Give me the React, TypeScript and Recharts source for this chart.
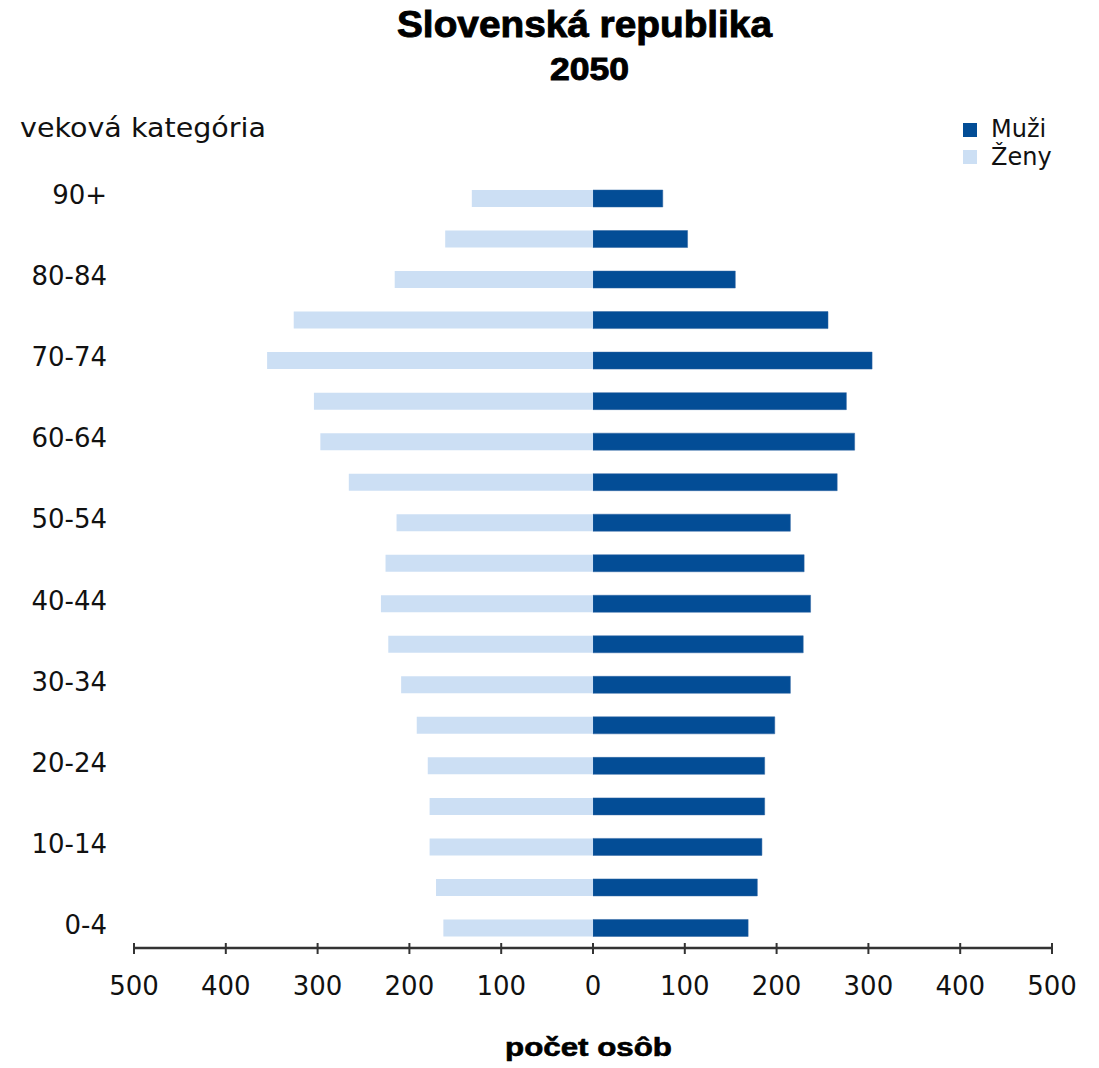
import React from 'react';
import { BarChart, Bar, XAxis, YAxis } from 'recharts';

const ageGroups = ['90+', '85-89', '80-84', '75-79', '70-74', '65-69', '60-64', '55-59', '50-54', '45-49', '40-44', '35-39', '30-34', '25-29', '20-24', '15-19', '10-14', '5-9', '0-4'];
const muzi = [76, 103, 155, 256, 304, 276, 285, 266, 215, 230, 237, 229, 215, 198, 187, 187, 184, 179, 169];
const zeny = [132, 161, 216, 326, 355, 304, 297, 266, 214, 226, 231, 223, 209, 192, 180, 178, 178, 171, 163];
const xTicks = [-500, -400, -300, -200, -100, 0, 100, 200, 300, 400, 500];

const seriesNames = ['Muži', 'Ženy'];
const seriesColors = ['#034D96', '#CCDFF4'];

const data = ageGroups.map((age, i) => ({ age, muzi: muzi[i], zeny: -zeny[i] }));

const FONT = '"DejaVu Sans", sans-serif';
const BOLD = '"Liberation Sans", Arial, sans-serif';

const XTick = (props: any) => {
  const { x, y, payload } = props;
  return (
    <g>
      <line x1={x} x2={x} y1={y - 5} y2={y + 6} stroke="#333" strokeWidth={2} />
      <text x={x} y={y + 46.5} textAnchor="middle" fontFamily={FONT} fontSize={26} fill="#111">
        {Math.abs(payload.value)}
      </text>
    </g>
  );
};

const YTick = (props: any) => {
  const { x, y, payload } = props;
  return (
    <text x={x} y={y + 6} textAnchor="end" fontFamily={FONT} fontSize={26} fill="#111">
      {payload.value}
    </text>
  );
};

export default function App() {
  return (
    <div style={{ position: 'absolute', left: 0, top: 0, width: 1099, height: 1068, background: '#fff' }}>
      <BarChart
        width={1099}
        height={1068}
        data={data}
        layout="vertical"
        stackOffset="sign"
        barSize={17}
        margin={{ top: 178, right: 47, bottom: 60, left: 14 }}
      >
        <XAxis
          type="number"
          domain={[-500, 500]}
          ticks={xTicks}
          height={60}
          axisLine={{ stroke: '#333', strokeWidth: 2.5 }}
          tickLine={false}
          tickSize={0}
          tickMargin={0}
          tick={<XTick />}
          interval={0}
        />
        <YAxis
          type="category"
          dataKey="age"
          width={120}
          axisLine={false}
          tickLine={false}
          tickSize={0}
          tickMargin={27}
          interval={1}
          tick={<YTick />}
        />
        <Bar dataKey="muzi" name={seriesNames[0]} stackId="a" fill={seriesColors[0]} stroke="#2f65a3" strokeWidth={0.5} isAnimationActive={false} />
        <Bar dataKey="zeny" name={seriesNames[1]} stackId="a" fill={seriesColors[1]} isAnimationActive={false} />
      </BarChart>
      <svg
        width={1099}
        height={1068}
        style={{ position: 'absolute', left: 0, top: 0, pointerEvents: 'none' }}
      >
        <text x={584.5} y={37} textAnchor="middle" fontFamily={BOLD} fontWeight="bold" fontSize={36} textLength={375} lengthAdjust="spacingAndGlyphs" fill="#000" stroke="#000" strokeWidth={0.9}>
          Slovenská republika
        </text>
        <text x={589.5} y={80} textAnchor="middle" fontFamily={BOLD} fontWeight="bold" fontSize={30.5} textLength={79} lengthAdjust="spacingAndGlyphs" fill="#000" stroke="#000" strokeWidth={0.9}>
          2050
        </text>
        <text x={20} y={137} fontFamily={FONT} fontSize={26.5} textLength={246} lengthAdjust="spacingAndGlyphs" fill="#111">
          veková kategória
        </text>
        <text x={588.5} y={1056} textAnchor="middle" fontFamily={BOLD} fontWeight="bold" fontSize={25} textLength={167} lengthAdjust="spacingAndGlyphs" fill="#000" stroke="#000" strokeWidth={0.6}>
          počet osôb
        </text>
        {seriesNames.map((name, i) => (
          <g key={name}>
            <rect x={963} y={123 + i * 27} width={14} height={14} fill={seriesColors[i]} />
            <text x={991} y={137 + i * 28} fontFamily={FONT} fontSize={24} fill="#111">
              {name}
            </text>
          </g>
        ))}
      </svg>
    </div>
  );
}
